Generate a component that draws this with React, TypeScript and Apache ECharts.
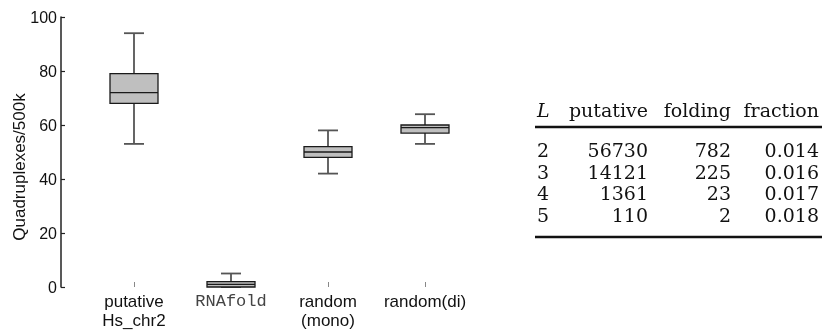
import React, { useEffect, useRef } from "react";
import * as echarts from "echarts";

const categories = ["putative\nHs_chr2", "RNAfold", "random\n(mono)", "random(di)"];
// [low, q1, median, q3, high]
const boxLow = [53, 0, 42, 53];
const boxQ1 = [68, 0, 48, 57];
const boxMedian = [72, 1, 50, 59];
const boxQ3 = [79, 2, 52, 60];
const boxHigh = [94, 5, 58, 64];
const yTicks = [0, 20, 40, 60, 80, 100];

const tableHeader = ["L", "putative", "folding", "fraction"];
const tableL = ["2", "3", "4", "5"];
const tablePutative = ["56730", "14121", "1361", "110"];
const tableFolding = ["782", "225", "23", "2"];
const tableFraction = ["0.014", "0.016", "0.017", "0.018"];

const SERIF = "'DejaVu Serif', 'Liberation Serif', serif";
const SANS = "'Liberation Sans', Arial, Helvetica, sans-serif";
const MONO = "'Liberation Mono', 'Courier New', Courier, monospace";

export default function App() {
  const ref = useRef<HTMLDivElement>(null);
  useEffect(() => {
    if (!ref.current) return;
    const chart = echarts.init(ref.current, null, { renderer: "svg" });
    const data = categories.map((_, i) => [i, boxLow[i], boxQ1[i], boxMedian[i], boxQ3[i], boxHigh[i]]);

    const tfs = 19;
    const rowY = [150, 171.7, 193.3, 215];
    const headerY = 110;
    const colRight = [648, 731, 819];
    const txt = (x: number, y: number, text: string, align: string, italic = false) => ({
      type: "text",
      x,
      y,
      style: {
        text,
        fontFamily: SERIF,
        fontStyle: italic ? "italic" : "normal",
        fontSize: tfs,
        fill: "#111",
        textAlign: align,
        textVerticalAlign: "middle",
      },
    });
    const graphics: any[] = [
      {
        type: "text",
        x: 19,
        y: 167,
        rotation: Math.PI / 2,
        style: {
          text: "Quadruplexes/500k",
          fontFamily: SANS,
          fontSize: 17,
          fill: "#111",
          textAlign: "center",
          textVerticalAlign: "middle",
        },
      },
      txt(537, headerY, tableHeader[0], "left", true),
      txt(colRight[0], headerY, tableHeader[1], "right"),
      txt(colRight[1], headerY, tableHeader[2], "right"),
      txt(colRight[2], headerY, tableHeader[3], "right"),
      { type: "line", shape: { x1: 535, y1: 127, x2: 822, y2: 127 }, style: { stroke: "#111", lineWidth: 2.5 } },
      { type: "line", shape: { x1: 535, y1: 237, x2: 822, y2: 237 }, style: { stroke: "#111", lineWidth: 2.5 } },
    ];
    tableL.forEach((v, i) => {
      const y = rowY[i];
      graphics.push(txt(537, y, v, "left"));
      graphics.push(txt(colRight[0], y, tablePutative[i], "right"));
      graphics.push(txt(colRight[1], y, tableFolding[i], "right"));
      graphics.push(txt(colRight[2], y, tableFraction[i], "right"));
    });

    chart.setOption({
      animation: false,
      grid: { left: 85.5, top: 17, width: 388, height: 271 },
      xAxis: {
        type: "category",
        data: categories,
        boundaryGap: true,
        axisLine: { show: false },
        axisTick: { show: true, inside: true, length: 5, alignWithLabel: true, lineStyle: { color: "#888", width: 1 } },
        axisLabel: {
          margin: 5,
          fontFamily: SANS,
          fontSize: 17,
          color: "#111",
          lineHeight: 19,
          interval: 0,
          formatter: (v: string) => (v === "RNAfold" ? "{m|RNAfold}" : v),
          rich: { m: { fontFamily: MONO, fontSize: 17, color: "#444", lineHeight: 19 } },
        },
        splitLine: { show: false },
      },
      yAxis: {
        type: "value",
        min: yTicks[0],
        max: yTicks[yTicks.length - 1],
        interval: 20,
        offset: 24.5,
        axisLine: { show: true, lineStyle: { color: "#222", width: 1.5 } },
        axisTick: { show: true, inside: true, length: 4, lineStyle: { color: "#222", width: 1.2 } },
        axisLabel: { margin: 4, fontFamily: SANS, fontSize: 16, color: "#111" },
        splitLine: { show: false },
      },
      series: [
        {
          type: "custom",
          encode: { x: 0, y: [1, 2, 3, 4, 5] },
          data,
          renderItem: (params: any, api: any) => {
            const idx = api.value(0);
            const pLow = api.coord([idx, api.value(1)]);
            const pQ1 = api.coord([idx, api.value(2)]);
            const pMed = api.coord([idx, api.value(3)]);
            const pQ3 = api.coord([idx, api.value(4)]);
            const pHigh = api.coord([idx, api.value(5)]);
            const band = api.size([1, 0])[0];
            const hw = (band * 48) / 97 / 2;
            const cw = (band * 20) / 97 / 2;
            const x = pMed[0];
            const wStyle = { stroke: "#555", lineWidth: 1.8 };
            const bStyle = { stroke: "#1a1a1a", lineWidth: 1.3 };
            return {
              type: "group",
              children: [
                { type: "line", shape: { x1: x, y1: pLow[1], x2: x, y2: pQ1[1] }, style: wStyle },
                { type: "line", shape: { x1: x, y1: pQ3[1], x2: x, y2: pHigh[1] }, style: wStyle },
                { type: "line", shape: { x1: x - cw, y1: pLow[1], x2: x + cw, y2: pLow[1] }, style: wStyle },
                { type: "line", shape: { x1: x - cw, y1: pHigh[1], x2: x + cw, y2: pHigh[1] }, style: wStyle },
                {
                  type: "rect",
                  shape: { x: x - hw, y: pQ3[1], width: hw * 2, height: pQ1[1] - pQ3[1] },
                  style: { fill: "#bfbfbf", stroke: "#1a1a1a", lineWidth: 1.3 },
                },
                { type: "line", shape: { x1: x - hw, y1: pMed[1], x2: x + hw, y2: pMed[1] }, style: bStyle },
              ],
            };
          },
        },
      ],
      graphic: graphics,
    });
    return () => chart.dispose();
  }, []);
  return <div ref={ref} style={{ position: "fixed", left: 0, top: 0, width: 825, height: 330 }} />;
}
